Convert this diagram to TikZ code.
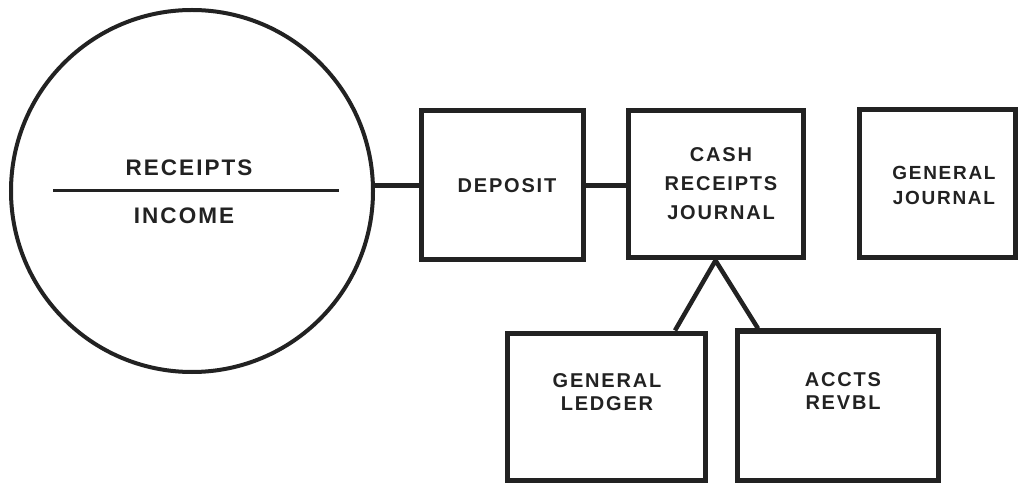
\documentclass[tikz,border=0pt]{standalone}
\usepackage{fontspec}
\setmainfont{Liberation Sans}[LetterSpace=9]
\usetikzlibrary{calc}
\definecolor{ink}{HTML}{222222}
\begin{document}
\begin{tikzpicture}[x=1pt,y=-1pt,
  box/.style={draw=ink, line width=5pt, rectangle, inner sep=0pt},
  lbl/.style={text=ink, font=\fontsize{20}{23}\selectfont\bfseries, align=center, inner sep=0pt},
  big/.style={text=ink, font=\fontsize{22.5}{26}\selectfont\bfseries, inner sep=0pt},
  conn/.style={draw=ink, line width=4.5pt}]
\useasboundingbox (0,0) rectangle (1020,486);
% circle
\node[draw=ink, line width=4pt, circle, minimum size=362pt, inner sep=0pt] (circ) at (192,191) {};
\node[big] (rec) at (189,168) {RECEIPTS};
\node[big] (inc) at (184,216) {INCOME};
\coordinate (bl) at (53,191);
\coordinate (br) at (339,191);
\draw[draw=ink, line width=3pt] (bl) -- (br);
% boxes
\node[box, minimum width=162pt, minimum height=149pt] (dep) at (502,185.5) {};
\node[lbl] (depT) at (507,186) {DEPOSIT};
\node[box, minimum width=175pt, minimum height=147pt] (cash) at (715.5,184.5) {};
\node[lbl, font=\fontsize{20}{29}\selectfont\bfseries] (cashT) at (721,184) {CASH\\RECEIPTS\\JOURNAL};
\node[box, minimum width=156pt, minimum height=148pt] (gj) at (937,184) {};
\node[lbl, font=\fontsize{19}{25}\selectfont\bfseries] (gjT) at (944,185) {GENERAL\\JOURNAL};
\node[box, minimum width=198pt, minimum height=147pt] (gl) at (606,406.5) {};
\node[lbl] (glT) at (607,392) {GENERAL\\LEDGER};
\node[box, minimum width=201pt, minimum height=149pt] (ar) at (837.5,405.5) {};
\node[lbl] (arT) at (843,391) {ACCTS\\REVBL};
% connectors
\draw[conn] (circ.east |- dep.west) -- (dep.west);
\draw[conn] (dep.east) -- (dep.east -| cash.west);
\draw[conn, line join=miter] ([xshift=69pt]gl.north) -- (cash.south) -- ([xshift=-79.5pt]ar.north);
\end{tikzpicture}
\end{document}
